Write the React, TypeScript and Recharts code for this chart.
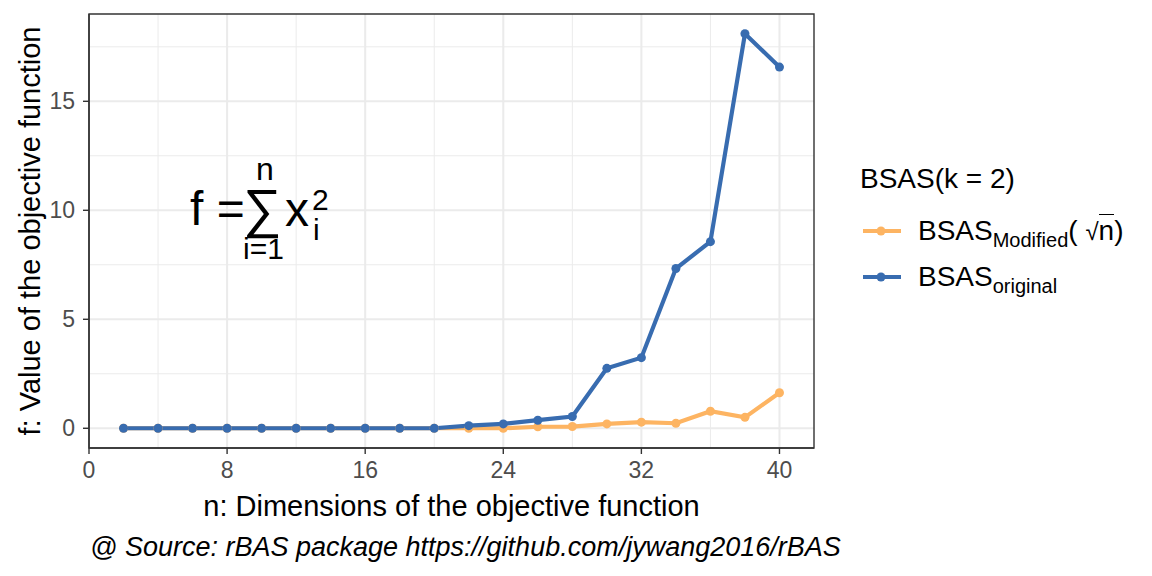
import { LineChart, Line, XAxis, YAxis, CartesianGrid, ReferenceArea } from 'recharts';

const nValues = [2, 4, 6, 8, 10, 12, 14, 16, 18, 20, 22, 24, 26, 28, 30, 32, 34, 36, 38, 40];
const bsasOriginal = [0, 0, 0, 0, 0, 0, 0, 0, 0, 0, 0.12, 0.2, 0.37, 0.54, 2.75, 3.24, 7.33, 8.56, 18.1, 16.57];
const bsasModified = [0, 0, 0, 0, 0, 0, 0, 0, 0, 0, 0, 0, 0.07, 0.08, 0.2, 0.28, 0.23, 0.78, 0.5, 1.63];

const xTicks = [0, 8, 16, 24, 32, 40];
const xMinor = [4, 12, 20, 28, 36];
const yTicks = [0, 5, 10, 15];
const yMinor = [2.5, 7.5, 12.5, 17.5];
const xDomain = [0, 42];
const yDomain = [-0.905, 19.005];

const ORANGE = '#FDB462';
const BLUE = '#386CB0';
const FONT = '"Liberation Sans", Arial, sans-serif';

const data = nValues.map((n, i) => ({
  n,
  modified: bsasModified[i],
  original: bsasOriginal[i],
}));

// legend drawn like ggplot's, to the right of the panel
function LegendBox() {
  const row = (color: string, label: React.ReactNode) => (
    <div style={{ display: 'flex', alignItems: 'center', height: 46 }}>
      <svg width={58} height={20} style={{ flex: 'none' }}>
        <line x1={3} y1={10} x2={41} y2={10} stroke={color} strokeWidth={4} />
        <circle cx={21} cy={10} r={4.5} fill={color} />
      </svg>
      <div style={{ fontSize: 28, whiteSpace: 'nowrap' }}>{label}</div>
    </div>
  );
  return (
    <div style={{ position: 'absolute', left: 860, top: 165, fontFamily: FONT, color: '#000', lineHeight: 1 }}>
      <div style={{ fontSize: 28, height: 43 }}>BSAS(k = 2)</div>
      {row(
        ORANGE,
        <span>
          BSAS
          <span style={{ fontSize: 20, position: 'relative', top: 7 }}>Modified</span>( <span style={{ fontSize: 24 }}>√</span>
          <span style={{ borderTop: '1.5px solid #000' }}>n</span>)
        </span>
      )}
      {row(
        BLUE,
        <span>
          BSAS
          <span style={{ fontSize: 20, position: 'relative', top: 7 }}>original</span>
        </span>
      )}
    </div>
  );
}

const renderXLabel = (props: any) => {
  const vb = props.viewBox;
  return (
    <text x={vb.x + vb.width / 2} y={516} textAnchor="middle" fontSize={29} fill="#000" fontFamily={FONT}>
      n: Dimensions of the objective function
    </text>
  );
};

const renderYLabel = () => (
  <text x={40} y={231} transform="rotate(-90, 40, 231)" textAnchor="middle" fontSize={29} fill="#000" fontFamily={FONT}>
    f: Value of the objective function
  </text>
);

export default function App() {
  return (
    <div style={{ position: 'absolute', left: 0, top: 0, width: 1152, height: 576, background: '#fff', fontFamily: FONT }}>
      <LineChart width={1152} height={576} data={data} margin={{ top: 14, right: 338, bottom: 0, left: 0 }}>
        <CartesianGrid horizontalValues={yMinor} verticalValues={xMinor} stroke="#EBEBEB" strokeWidth={1} />
        <CartesianGrid horizontalValues={yTicks} verticalValues={xTicks} stroke="#EBEBEB" strokeWidth={2} />
        <XAxis
          dataKey="n"
          type="number"
          domain={xDomain}
          ticks={xTicks}
          height={128}
          tickSize={6}
          tickMargin={8}
          axisLine={{ stroke: '#333', strokeWidth: 1.4 }}
          tickLine={{ stroke: '#333', strokeWidth: 1.4 }}
          tick={{ fontSize: 23, fill: '#4D4D4D', fontFamily: FONT }}
          label={renderXLabel}
        />
        <YAxis
          type="number"
          domain={yDomain}
          ticks={yTicks}
          width={89}
          tickSize={6}
          tickMargin={8}
          axisLine={{ stroke: '#333', strokeWidth: 1.4 }}
          tickLine={{ stroke: '#333', strokeWidth: 1.4 }}
          tick={{ fontSize: 23, fill: '#4D4D4D', fontFamily: FONT }}
          label={renderYLabel}
        />
        {/* panel border */}
        <ReferenceArea
          x1={xDomain[0]}
          x2={xDomain[1]}
          y1={yDomain[0]}
          y2={yDomain[1]}
          fill="none"
          fillOpacity={0}
          stroke="#333"
          strokeWidth={1.4}
          ifOverflow="visible"
        />
        <Line
          type="linear"
          dataKey="modified"
          name="Modified"
          stroke={ORANGE}
          strokeWidth={4.2}
          dot={{ r: 4.5, fill: ORANGE, stroke: 'none' }}
          activeDot={false}
          isAnimationActive={false}
        />
        <Line
          type="linear"
          dataKey="original"
          name="original"
          stroke={BLUE}
          strokeWidth={4.2}
          dot={{ r: 4.5, fill: BLUE, stroke: 'none' }}
          activeDot={false}
          isAnimationActive={false}
        />
      </LineChart>
      <LegendBox />
      <svg width={1152} height={576} style={{ position: 'absolute', left: 0, top: 0, pointerEvents: 'none' }}>
        <g fontFamily={FONT} fill="#000">
          <text x={190} y={225} fontSize={48}>f =</text>
          <text x={243} y={227} fontSize={54}>∑</text>
          <text x={256} y={180} fontSize={32}>n</text>
          <text x={243} y={259} fontSize={30}>i=1</text>
          <text x={285} y={226} fontSize={48}>x</text>
          <text x={312} y={210} fontSize={30}>2</text>
          <text x={313} y={240} fontSize={30}>i</text>
        </g>
        <text x={90} y={556} fontSize={27} fontStyle="italic" fill="#000" fontFamily={FONT}>
          @ Source: rBAS package https://github.com/jywang2016/rBAS
        </text>
      </svg>
    </div>
  );
}
